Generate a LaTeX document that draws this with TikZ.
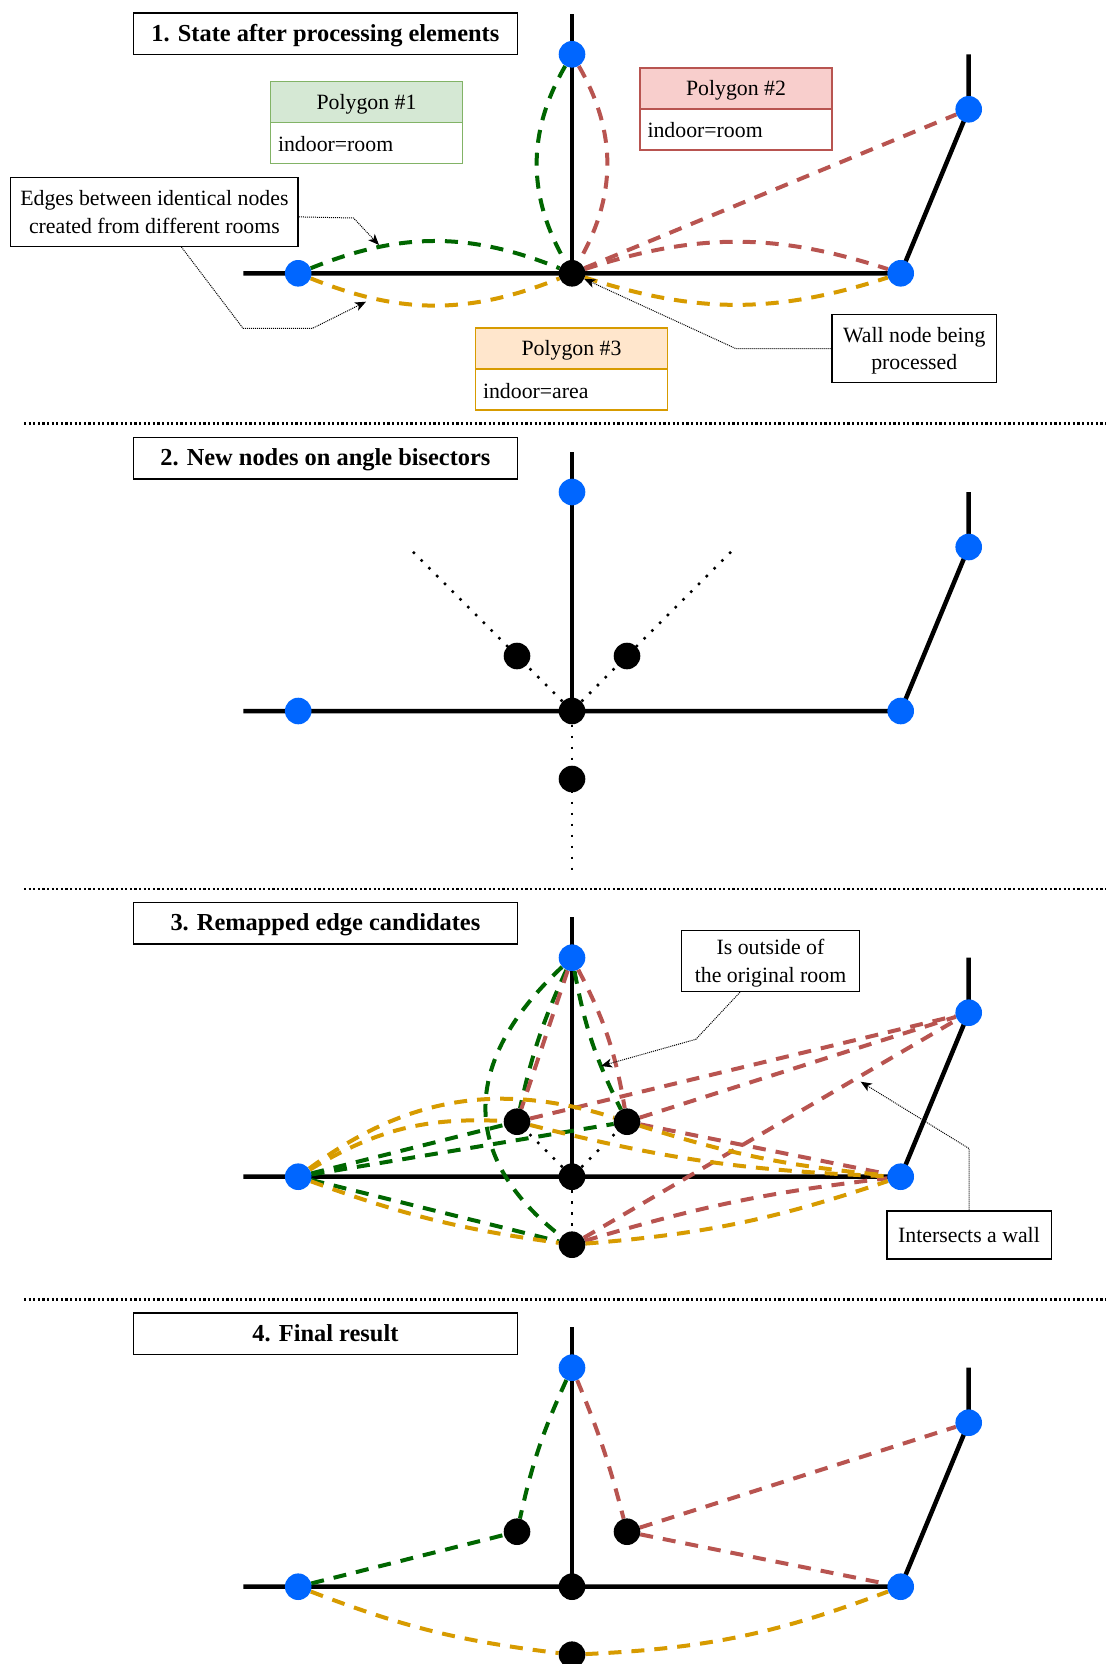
\documentclass[tikz,border=0pt]{standalone}
\usepackage{fontspec}
\setmainfont{Liberation Serif}
\usepackage{tikz}
\usetikzlibrary{arrows.meta,positioning,backgrounds}
\usepackage{xcolor}
\definecolor{WallBlue}{HTML}{0066FF}
\definecolor{EdgeGreen}{HTML}{006600}
\definecolor{EdgeRed}{HTML}{B85450}
\definecolor{EdgeYellow}{HTML}{D79B00}
\definecolor{PolyGreenFill}{HTML}{D5E8D4}
\definecolor{PolyGreenLine}{HTML}{82B366}
\definecolor{PolyRedFill}{HTML}{F8CECC}
\definecolor{PolyRedLine}{HTML}{B85450}
\definecolor{PolyYellowFill}{HTML}{FFE6CC}
\definecolor{PolyYellowLine}{HTML}{D79B00}

\begin{document}
\begin{tikzpicture}[x=1pt,y=1pt,
    every node/.style={font=\fontsize{21.8}{27.6}\selectfont},
    wall/.style={line width=4.5pt},
    wallnode/.style={circle,fill=WallBlue,inner sep=0pt,minimum size=26.6pt},
    newnode/.style={circle,fill=black,inner sep=0pt,minimum size=26.6pt},
    gedge/.style={EdgeGreen,line width=4pt,dash pattern=on 13pt off 10pt},
    redge/.style={EdgeRed,line width=4pt,dash pattern=on 13pt off 10pt},
    yedge/.style={EdgeYellow,line width=4pt,dash pattern=on 13pt off 10pt},
    bis/.style={line width=2.5pt,dash pattern=on 2.5pt off 8.5pt},
    divider/.style={line width=2.2pt,dash pattern=on 2.2pt off 2.4pt},
    callarrow/.style={line width=1pt,dash pattern=on 1pt off 1pt,-{Stealth[length=11pt,width=9pt,inset=3pt]}},
    titlebox/.style={draw,line width=1.5pt,minimum width=383.8pt,minimum height=41.5pt,text height=20pt,text depth=4.5pt,font=\fontsize{24.4}{29}\selectfont\bfseries},
    callout/.style={draw,line width=1.5pt,align=center,inner sep=0pt,text depth=0pt},
    polyhead/.style={draw,line width=1.5pt,minimum width=192pt,minimum height=41pt,text height=18.5pt,text depth=4.1pt,outer sep=0pt},
    polybody/.style={draw,fill=white,line width=1.5pt,text width=177pt,inner xsep=7.5pt,inner ysep=0pt,minimum height=40.6pt,text height=17pt,text depth=0pt,align=left,outer sep=0pt}]
  \useasboundingbox (0,0) rectangle (1108,-1664);

  \node[titlebox] (t1) at (325.4,-33.65) {1. State after processing elements};
  \node[titlebox] (t2) at (325.4,-458.2) {2. New nodes on angle bisectors};
  \node[titlebox] (t3) at (325.4,-923.2) {3. Remapped edge candidates};
  \node[titlebox] (t4) at (325.4,-1333.5) {4. Final result};
  \foreach \y in {-423.5,-889,-1299.5}{\draw[divider] (24,\y) -- (1106,\y);}

  \foreach \p/\w in {1/-273.3,2/-711,3/-1176.7,4/-1586.7}{
    \node[wallnode] (lf\p) at (298.2,\w) {};
    \node[wallnode] (tp\p) at (572,\w+219) {};
    \node[wallnode] (lr\p) at (900.7,\w) {};
    \node[wallnode] (ur\p) at (968.7,\w+164) {};
    \node[newnode] (c\p) at (572,\w) {};
  }
  \foreach \p/\w in {2/-711,3/-1176.7,4/-1586.7}{
    \node[newnode] (bl\p) at (517,\w+55) {};
    \node[newnode] (br\p) at (627,\w+55) {};
    \node[newnode] (bb\p) at (572,\w-68) {};
  }

  \node[polyhead,fill=PolyGreenFill,draw=PolyGreenLine] (p1) at (366.5,-102.2) {Polygon \#1};
  \node[polybody,draw=PolyGreenLine,below=0pt of p1] (p1b) {indoor=room};
  \node[polyhead,fill=PolyRedFill,draw=PolyRedLine] (p2) at (736,-88.7) {Polygon \#2};
  \node[polybody,draw=PolyRedLine,below=0pt of p2] (p2b) {indoor=room};
  \node[polyhead,fill=PolyYellowFill,draw=PolyYellowLine] (p3) at (571.5,-348.7) {Polygon \#3};
  \node[polybody,draw=PolyYellowLine,below=0pt of p3] (p3b) {indoor=area};

  \node[callout,minimum width=287.5pt,minimum height=68.7pt] (edg) at (154.4,-211.9) {Edges between identical nodes\\created from different rooms};
  \node[callout,minimum width=164.5pt,minimum height=68.4pt] (wnp) at (914.3,-348.5) {Wall node being\\processed};
  \node[callout,minimum width=178.3pt,minimum height=61pt] (outside) at (770.5,-961) {Is outside of\\the original room};
  \node[callout,minimum width=164.5pt,minimum height=47.7pt] (iaw) at (969,-1234.9) {Intersects a wall};

  \coordinate (a1) at (379,-245);
  \coordinate (a2) at (366,-301.7);
  \coordinate (a3) at (601,-1066);
  \coordinate (a4) at (860.7,-1081.7);
  \draw[callarrow] ([yshift=-5pt]edg.east) -- (353.5,-218) -- (a1);
  \draw[callarrow] ([xshift=27pt]edg.south) -- (243,-328.3) -- (312.5,-328.3) -- (a2);
  \draw[callarrow] (wnp.west) -- (735.6,-348.5) -- (c1);
  \draw[callarrow] ([xshift=-30.5pt]outside.south) -- (695.8,-1039.3) -- (a3);
  \draw[callarrow] (iaw.north) -- (969,-1148.5) -- (a4);

  \begin{scope}[on background layer]
    \foreach \p/\w in {1/-273.3,2/-711,3/-1176.7,4/-1586.7}{
      \coordinate (we\p) at (243.4,\w);
      \coordinate (wt\p) at (572,\w+259.3);
      \coordinate (rt\p) at (968.7,\w+219);
      \draw[wall] (we\p) -- (lr\p.center) -- (ur\p.center) -- (rt\p);
      \draw[wall] (c\p.center) -- (wt\p);
    }

    \draw[gedge] (lf1) to[bend left=22] (c1);
    \draw[yedge] (lf1) to[bend right=22] (c1);
    \draw[gedge] (tp1) to[bend right=30] (c1);
    \draw[redge] (tp1) to[bend left=30] (c1);
    \draw[redge] (c1) to[bend left=18] (lr1);
    \draw[yedge] (c1) to[bend right=18] (lr1);
    \draw[redge] (c1) -- (ur1);

    \coordinate (el2) at (409.5,-548.3);
    \coordinate (er2) at (734.5,-548.3);
    \coordinate (ed2) at (572,-871.7);
    \foreach \e in {el2,er2,ed2}{\draw[bis] (c2) -- (\e);}
    \foreach \e in {bl3,br3,bb3}{\draw[bis] (c3) -- (\e);}

    \draw[gedge] (lf3) -- (bl3);
    \draw[gedge] (lf3) -- (br3);
    \draw[gedge] (lf3) -- (bb3);
    \draw[gedge] (tp3) to[bend right=6] (bl3);
    \draw[gedge] (tp3) to[bend right=8] (br3);
    \draw[gedge] (tp3) .. controls (460,-1062) and (460,-1158) .. (bb3);
    \draw[redge] (tp3) -- (bl3);
    \draw[redge] (tp3) to[bend left=9] (br3);
    \foreach \x in {bl3,br3,bb3}{\draw[redge] (\x) -- (ur3);}
    \draw[redge] (br3) -- (lr3);
    \draw[redge] (bb3) to[bend left=5] (lr3);
    \draw[yedge] (lf3) to[bend left=17] (bl3);
    \draw[yedge] (lf3) to[bend left=27] (br3);
    \draw[yedge] (lf3) to[bend right=6] (bb3);
    \draw[yedge] (bl3) to[bend right=6] (lr3);
    \draw[yedge] (br3) to[bend right=6] (lr3);
    \draw[yedge] (bb3) to[bend right=7] (lr3);

    \draw[gedge] (tp4) to[bend right=6] (bl4);
    \draw[gedge] (lf4) -- (bl4);
    \draw[redge] (tp4) to[bend left=4] (br4);
    \draw[redge] (br4) -- (ur4);
    \draw[redge] (br4) -- (lr4);
    \draw[yedge] (lf4) to[bend right=7] (bb4);
    \draw[yedge] (bb4) to[bend right=9] (lr4);
  \end{scope}
\end{tikzpicture}
\end{document}
